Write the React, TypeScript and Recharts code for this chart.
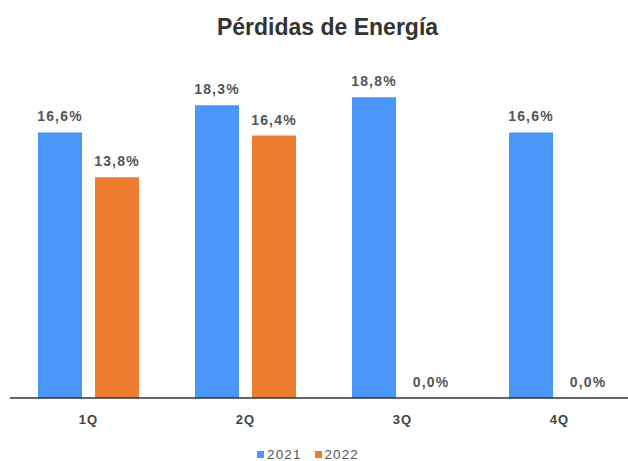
import { BarChart, Bar, XAxis, YAxis, LabelList, Legend } from 'recharts';

// quarterly energy losses, %
const quarters = ['1Q', '2Q', '3Q', '4Q'];
const losses2021 = [16.6, 18.3, 18.8, 16.6];
const losses2022 = [13.8, 16.4, 0, 0];

const data = quarters.map((q, i) => ({ quarter: q, y2021: losses2021[i], y2022: losses2022[i] }));

const FONT = '"Liberation Sans", Arial, sans-serif';
const BLUE = '#4b96f9';
const ORANGE = '#ed7d31';

const fmt = (v: any) => `${Number(v).toFixed(1).replace('.', ',')}%`;

const labelStyle = { fill: '#555', fontSize: 14, fontWeight: 'bold', fontFamily: FONT, letterSpacing: 1.2 };

const LegendContent = () => (
  <div style={{ display: 'flex', justifyContent: 'center', alignItems: 'center', height: 22, gap: 13, paddingRight: 32, fontFamily: FONT, fontSize: 13.5, lineHeight: '13px', letterSpacing: 1.1, color: '#555' }}>
    <span style={{ display: 'flex', alignItems: 'center', gap: 3 }}>
      <span style={{ width: 7, height: 7, background: BLUE, display: 'inline-block' }} />2021
    </span>
    <span style={{ display: 'flex', alignItems: 'center', gap: 3 }}>
      <span style={{ width: 7, height: 7, background: ORANGE, display: 'inline-block' }} />2022
    </span>
  </div>
);

export default function App() {
  return (
    <div style={{ position: 'absolute', left: 0, top: 0, width: 628, height: 461, overflow: 'hidden', background: '#fff' }}>
      <div style={{ position: 'absolute', left: 0, top: 14, width: 655, textAlign: 'center', fontFamily: FONT, fontWeight: 'bold', fontSize: 23, color: '#333' }}>
        Pérdidas de Energía
      </div>
      <BarChart width={640} height={461} data={data} margin={{ top: 78, right: 2, left: 10, bottom: 4 }} barGap={13}>
        <YAxis hide domain={[0, 20]} />
        <XAxis
          dataKey="quarter"
          axisLine={{ stroke: '#333', strokeWidth: 1.5 }}
          tickLine={false}
          height={37}
          tick={{ fill: '#444', fontSize: 13, fontWeight: 'bold', fontFamily: FONT, letterSpacing: 1 }}
          tickMargin={11}
        />
        <Legend verticalAlign="bottom" height={22} wrapperStyle={{ bottom: -4 }} content={<LegendContent />} />
        <Bar dataKey="y2021" fill={BLUE} barSize={44} isAnimationActive={false}>
          <LabelList dataKey="y2021" position="top" offset={11} formatter={fmt} style={labelStyle} />
        </Bar>
        <Bar dataKey="y2022" fill={ORANGE} barSize={44} minPointSize={0.01} isAnimationActive={false}>
          <LabelList dataKey="y2022" position="top" offset={11} formatter={fmt} style={labelStyle} />
        </Bar>
      </BarChart>
    </div>
  );
}
